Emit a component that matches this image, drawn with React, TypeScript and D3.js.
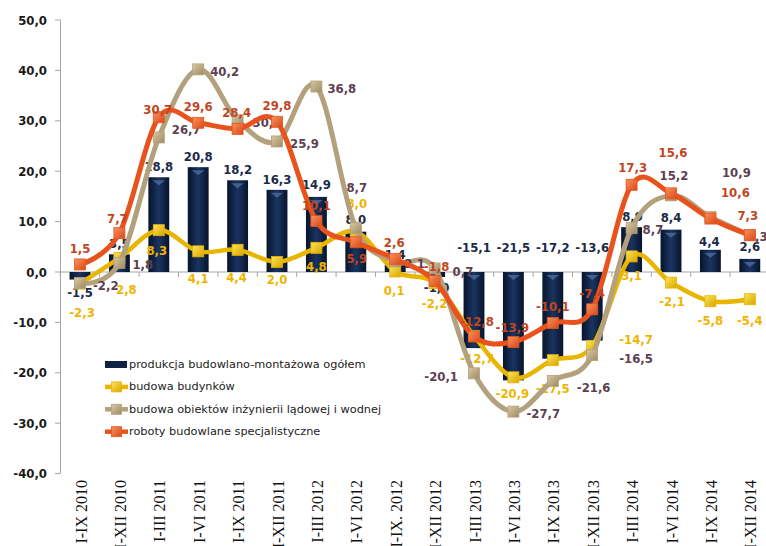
import React from "react";
import * as d3 from "d3";

const categories = ["I-IX 2010","I-XII 2010","I-III 2011","I-VI 2011","I-IX 2011","I-XII 2011","I-III 2012","I-VI 2012","I-IX. 2012","I-XII 2012","I-III 2013","I-VI 2013","I-IX 2013","I-XII 2013","I-III 2014","I-VI 2014","I-IX 2014","I-XII 2014"];
const totalValues = [-1.5,3.5,18.8,20.8,18.2,16.3,14.9,8.0,1.4,-1.0,-15.1,-21.5,-17.2,-13.6,8.9,8.4,4.4,2.6];
const buildingsValues = [-2.3,2.8,8.3,4.1,4.4,2.0,4.8,8.0,0.1,-2.2,-12.7,-20.9,-17.5,-14.7,3.1,-2.1,-5.8,-5.4];
const civilValues = [-2.2,1.8,26.7,40.2,30.1,25.9,36.8,8.7,2.1,0.7,-20.1,-27.7,-21.6,-16.5,8.7,15.2,10.9,7.3];
const specialistValues = [1.5,7.7,30.7,29.6,28.4,29.8,10.1,5.9,2.6,-1.8,-12.8,-13.9,-10.1,-7.4,17.3,15.6,10.6,7.3];
const yTicks = [-40,-30,-20,-10,0,10,20,30,40,50];
const seriesNames = ["produkcja budowlano-montażowa ogółem","budowa budynków","budowa obiektów inżynierii lądowej i wodnej","roboty budowlane specjalistyczne"];

// label layout: [anchor, dx, dy]  (m = middle, s = start, e = end, z = relative to zero line)
type Off = [string, number, number];
const barLabelOff: Off[] = [["m",0,13],["m",0,-11],["m",0,-11],["m",0,-11],["m",0,-11],["m",0,-10],["m",0,-12],["m",0,-12],["m",0,-10],["m",2,10],["z",0,-25],["z",0,-25],["z",0,-25],["z",0,-25],["m",1,-11],["m",0,-12],["m",-1,-8],["m",0,-12]];
const yellowLabelOff: Off[] = [["m",2,29],["m",7,32],["m",-2,20],["m",0,27],["m",-1,28],["m",0,18],["m",0,19],["m",1,-28],["m",-1,19],["m",0,20],["m",3,22],["m",-1,16],["m",0,28],["s",27,-7],["m",0,19],["m",1,19],["m",0,19],["m",0,21]];
const tanLabelOff: Off[] = [["s",13,2],["s",13,2],["s",13,-8],["s",12,2],["s",15,2],["s",13,2],["s",11,2],["m",1,-41],["s",9,2],["s",18,3],["e",-16,3],["s",13,2],["s",24,7],["s",27,3],["s",11,1],["m",3,-20],["m",26,-45],["s",-3,1]];
const orangeLabelOff: Off[] = [["m",0,-16],["m",-2,-15],["m",-1,-8],["m",0,-16],["m",-1,-16],["m",0,-16],["m",0,-16],["m",1,16],["m",-1,-16],["m",2,-15],["m",3,-15],["m",-1,-15],["m",0,-16],["m",0,-16],["m",1,-17],["m",2,-41],["m",25,-26],["m",-2,-20]];

const fmt = (v: number) => v.toFixed(1).replace(".", ",");
const labelFont = "'DejaVu Sans Condensed', 'DejaVu Sans', sans-serif";

export default function App() {
  const W = 766, H = 546;
  const x = d3.scaleBand<string>().domain(categories).range([60.3, 769.5]).paddingInner(0.47).paddingOuter(0.235);
  const y = d3.scaleLinear().domain([-40, 50]).range([473.6, 20]);
  const cx = (i: number) => (x(categories[i]) as number) + x.bandwidth() / 2;
  const step = x.step();
  const y0 = y(0);

  const lineGen = d3.line<number>().x((_, i) => cx(i)).y((d) => y(d)).curve(d3.curveCardinal.tension(0));

  const series = [
    { vals: buildingsValues, color: "#e8b500", mk: "mkY", lab: "#f0b400", off: yellowLabelOff, w: 4.5 },
    { vals: civilValues, color: "#b3a07c", mk: "mkT", lab: "#5c3f50", off: tanLabelOff, w: 5 },
    { vals: specialistValues, color: "#e8531d", mk: "mkO", lab: "#c0461f", off: orangeLabelOff, w: 5 },
  ];

  const anchorOf = (a: string) => (a === "s" ? "start" : a === "e" ? "end" : "middle");

  const boundaries = d3.range(categories.length + 1).map((k) => 60.3 + k * step);

  return (
    <svg width={W} height={H} style={{ position: "absolute", left: 0, top: 0, background: "#fff" }}>
      <defs>
        <linearGradient id="barG" x1="0" x2="1" y1="0" y2="0">
          <stop offset="0" stopColor="#07142b" />
          <stop offset="0.5" stopColor="#1a3461" />
          <stop offset="1" stopColor="#07142b" />
        </linearGradient>
        <linearGradient id="mkY" x1="0" x2="1" y1="0" y2="1">
          <stop offset="0" stopColor="#fde45a" />
          <stop offset="1" stopColor="#d9a400" />
        </linearGradient>
        <linearGradient id="mkT" x1="0" x2="1" y1="0" y2="1">
          <stop offset="0" stopColor="#d9c8a4" />
          <stop offset="1" stopColor="#9e8a64" />
        </linearGradient>
        <linearGradient id="mkO" x1="0" x2="1" y1="0" y2="1">
          <stop offset="0" stopColor="#f8935c" />
          <stop offset="1" stopColor="#d9481a" />
        </linearGradient>
      </defs>

      {/* y axis */}
      <line x1={60.5} x2={60.5} y1={y(50)} y2={y(-40)} stroke="#a6a6a6" strokeWidth={1} />
      {yTicks.map((t) => (
        <g key={t}>
          <line x1={55} x2={60.5} y1={y(t)} y2={y(t)} stroke="#a6a6a6" />
          <text x={47} y={y(t)} textAnchor="end" dominantBaseline="central" fontFamily={labelFont} fontWeight="bold" fontSize={13} fill="#1a1a1a">{fmt(t)}</text>
        </g>
      ))}

      {/* x axis */}
      <line x1={60.5} x2={W} y1={y0} y2={y0} stroke="#a6a6a6" strokeWidth={1} />
      {boundaries.map((b, k) => (
        <line key={k} x1={b} x2={b} y1={y0} y2={y0 + 5} stroke="#a6a6a6" />
      ))}
      {categories.map((c, i) => (
        <text key={c} transform={`translate(${cx(i) + 1},480) rotate(-90)`} textAnchor="end" dominantBaseline="central" fontFamily="'Liberation Serif', 'Times New Roman', serif" fontSize={16} fill="#111">{c}</text>
      ))}

      {/* bars */}
      <g>
        {totalValues.map((v, i) => {
          const bx = x(categories[i]) as number;
          const top = Math.min(y(v), y0);
          const h = Math.abs(y(v) - y0);
          const bw = x.bandwidth();
          return (
            <g key={i}>
              <rect x={bx} y={top} width={bw} height={h} fill="url(#barG)" />
              {h > 12 && <path d={`M${bx + 4},${top + 3} L${bx + bw - 4},${top + 3} L${bx + bw / 2},${top + 8} Z`} fill="#5f7fb3" opacity={0.6} />}
            </g>
          );
        })}
        {totalValues.map((v, i) => {
          const o = barLabelOff[i];
          const base = o[0] === "z" ? y0 : y(v);
          return (
            <text key={i} x={cx(i) + o[1]} y={base + o[2]} textAnchor={o[0] === "z" ? "middle" : anchorOf(o[0])} dominantBaseline="central" fontFamily={labelFont} fontWeight="bold" fontSize={13} fill="#1b2a48">{fmt(v)}</text>
          );
        })}
      </g>

      {/* line series */}
      {series.map((s, si) => (
        <g key={si}>
          <path d={lineGen(s.vals) as string} fill="none" stroke={s.color} strokeWidth={s.w} strokeLinejoin="round" />
          {s.vals.map((v, i) => (
            <rect key={i} x={cx(i) - 5.5} y={y(v) - 5.5} width={11} height={11} fill={`url(#${s.mk})`} stroke={s.color} strokeWidth={0.8} />
          ))}
          {s.vals.map((v, i) => {
            const o = s.off[i];
            return (
              <text key={"l" + i} x={cx(i) + o[1]} y={y(v) + o[2]} textAnchor={anchorOf(o[0])} dominantBaseline="central" fontFamily={labelFont} fontWeight="bold" fontSize={13} fill={s.lab}>{fmt(v)}</text>
            );
          })}
        </g>
      ))}

      {/* legend */}
      <g fontFamily="'DejaVu Sans', sans-serif" fontSize={11.3} fill="#222">
        {seriesNames.map((n, k) => {
          const ly = 364.5 + k * 22.4;
          return (
            <g key={n}>
              {k === 0 ? (
                <rect x={105} y={ly - 3.5} width={22} height={7} fill="#0f2242" />
              ) : (
                <g>
                  <line x1={105} x2={128} y1={ly} y2={ly} stroke={series[k - 1].color} strokeWidth={4.5} />
                  <rect x={111.5} y={ly - 5} width={10} height={10} fill={`url(#${series[k - 1].mk})`} stroke={series[k - 1].color} strokeWidth={0.8} />
                </g>
              )}
              <text x={129} y={ly} dominantBaseline="central">{n}</text>
            </g>
          );
        })}
      </g>
    </svg>
  );
}
